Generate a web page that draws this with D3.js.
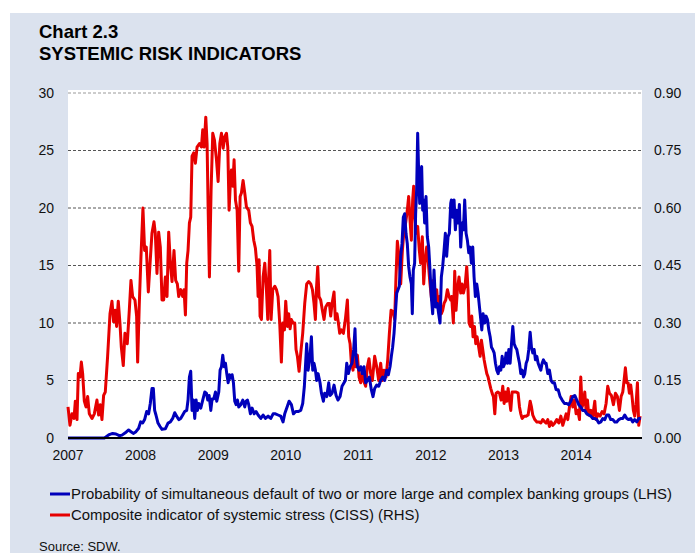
<!DOCTYPE html>
<html>
<head>
<meta charset="utf-8">
<script src="https://cdn.jsdelivr.net/npm/d3@7"></script>
<style>
  body { margin: 0; background: #fff; }
  svg { display: block; font-family: "Liberation Sans", Arial, sans-serif; }
</style>
</head>
<body>
<div id="chart"></div>
<script>
var width = 695,
  height = 553;

// probability of simultaneous default (LHS, %), [decimal year, value]
var pdSeries = [
  [2007.007,0.0],[2007.255,0.0],[2007.508,0.0],[2007.530,0.1],[2007.576,0.3],[2007.622,0.4],[2007.668,0.35],
  [2007.714,0.2],[2007.751,0.25],[2007.797,0.45],[2007.843,0.7],[2007.875,0.55],[2007.907,0.4],[2007.944,0.55],
  [2007.981,0.85],[2008.008,1.4],[2008.036,1.3],[2008.063,1.6],[2008.091,2.3],[2008.118,2.1],[2008.141,3.0],
  [2008.164,4.3],[2008.183,4.3],[2008.201,2.4],[2008.219,2.0],[2008.247,1.3],[2008.275,1.0],[2008.302,0.75],
  [2008.348,0.8],[2008.385,1.3],[2008.417,1.4],[2008.449,1.7],[2008.477,2.2],[2008.504,1.9],[2008.532,1.6],
  [2008.559,1.7],[2008.587,2.0],[2008.614,2.3],[2008.642,2.4],[2008.660,3.3],[2008.679,5.3],[2008.697,5.8],
  [2008.715,2.4],[2008.734,3.3],[2008.752,1.7],[2008.771,3.3],[2008.789,2.4],[2008.807,3.0],[2008.835,2.6],
  [2008.862,3.3],[2008.890,4.0],[2008.913,3.9],[2008.931,3.3],[2008.950,3.7],[2008.973,2.4],[2008.991,3.4],
  [2009.014,3.4],[2009.037,4.0],[2009.055,3.2],[2009.083,4.0],[2009.101,5.9],[2009.120,6.2],[2009.138,7.2],
  [2009.156,6.2],[2009.175,6.5],[2009.193,5.6],[2009.212,4.8],[2009.230,5.5],[2009.248,5.2],[2009.267,5.5],
  [2009.285,4.8],[2009.303,3.2],[2009.322,2.9],[2009.340,3.3],[2009.358,2.7],[2009.386,2.9],[2009.414,3.3],
  [2009.441,2.7],[2009.460,3.2],[2009.478,3.3],[2009.496,2.9],[2009.519,2.1],[2009.542,2.6],[2009.570,2.1],
  [2009.597,2.3],[2009.625,2.0],[2009.662,1.7],[2009.694,2.0],[2009.726,1.7],[2009.763,1.9],[2009.799,1.7],
  [2009.832,2.1],[2009.864,2.1],[2009.900,2.0],[2009.937,1.9],[2009.969,1.4],[2009.992,2.1],[2010.020,2.6],
  [2010.052,3.2],[2010.084,2.9],[2010.112,2.1],[2010.144,2.3],[2010.176,2.3],[2010.213,2.4],[2010.240,3.0],
  [2010.263,4.5],[2010.277,6.1],[2010.295,8.2],[2010.314,5.9],[2010.337,6.8],[2010.360,8.8],[2010.378,5.9],
  [2010.396,6.5],[2010.415,5.9],[2010.433,5.0],[2010.452,5.6],[2010.479,4.8],[2010.498,3.9],[2010.525,3.2],
  [2010.543,3.9],[2010.571,3.6],[2010.599,4.8],[2010.617,3.7],[2010.645,3.9],[2010.672,4.6],[2010.700,3.7],
  [2010.727,3.3],[2010.755,3.6],[2010.782,4.5],[2010.810,4.8],[2010.828,5.0],[2010.847,6.5],[2010.870,5.6],
  [2010.893,6.2],[2010.920,6.5],[2010.943,7.7],[2010.961,9.5],[2010.971,7.4],[2010.994,6.2],[2011.017,5.9],
  [2011.040,6.2],[2011.062,5.6],[2011.085,6.2],[2011.108,4.8],[2011.131,5.0],[2011.159,5.3],[2011.186,4.2],
  [2011.209,3.6],[2011.232,4.3],[2011.260,4.6],[2011.288,4.5],[2011.315,5.0],[2011.343,5.3],[2011.370,5.0],
  [2011.398,5.9],[2011.421,5.5],[2011.444,6.2],[2011.462,7.1],[2011.480,7.9],[2011.499,9.1],[2011.517,10.8],
  [2011.536,12.6],[2011.554,12.9],[2011.572,13.2],[2011.591,15.8],[2011.609,16.9],[2011.627,19.2],[2011.646,19.5],
  [2011.664,17.8],[2011.682,16.9],[2011.701,14.9],[2011.719,14.0],[2011.738,13.4],[2011.751,10.8],[2011.765,14.6],
  [2011.783,15.2],[2011.797,19.5],[2011.811,21.6],[2011.825,26.5],[2011.839,23.0],[2011.853,20.4],[2011.866,23.3],
  [2011.880,23.6],[2011.894,19.8],[2011.908,20.7],[2011.921,18.7],[2011.940,21.0],[2011.958,17.5],[2011.977,16.6],
  [2011.995,14.6],[2012.013,12.3],[2012.032,10.8],[2012.050,14.6],[2012.073,11.4],[2012.096,11.7],[2012.114,10.8],
  [2012.133,10.0],[2012.151,14.0],[2012.169,14.9],[2012.188,16.3],[2012.206,17.8],[2012.224,15.8],[2012.243,17.5],
  [2012.261,17.8],[2012.280,20.4],[2012.289,20.7],[2012.307,19.2],[2012.326,20.7],[2012.344,18.1],[2012.362,19.8],
  [2012.381,18.7],[2012.399,20.3],[2012.417,16.6],[2012.436,18.7],[2012.454,18.1],[2012.472,20.7],[2012.491,17.8],
  [2012.509,17.2],[2012.528,16.1],[2012.546,16.6],[2012.564,15.2],[2012.583,16.6],[2012.601,14.0],[2012.619,12.3],
  [2012.638,13.4],[2012.656,12.6],[2012.675,11.4],[2012.693,10.3],[2012.707,9.4],[2012.725,10.8],[2012.748,10.0],
  [2012.766,10.6],[2012.785,10.3],[2012.803,9.4],[2012.822,8.8],[2012.840,7.9],[2012.858,7.7],[2012.877,7.4],
  [2012.895,6.5],[2012.913,5.9],[2012.932,5.6],[2012.950,6.2],[2012.969,5.9],[2012.987,7.1],[2013.005,6.2],
  [2013.024,6.5],[2013.042,7.4],[2013.060,6.5],[2013.079,7.7],[2013.097,6.5],[2013.116,8.2],[2013.134,9.7],
  [2013.152,8.2],[2013.171,7.9],[2013.189,7.7],[2013.207,7.1],[2013.226,6.5],[2013.244,5.6],[2013.262,5.9],
  [2013.281,5.3],[2013.299,5.6],[2013.318,6.5],[2013.336,6.8],[2013.354,7.7],[2013.373,9.2],[2013.391,7.9],
  [2013.409,7.4],[2013.428,7.7],[2013.446,6.8],[2013.465,7.1],[2013.483,6.5],[2013.501,6.2],[2013.520,5.9],
  [2013.538,6.5],[2013.556,6.8],[2013.579,6.5],[2013.593,6.5],[2013.616,5.6],[2013.639,5.9],[2013.662,5.0],
  [2013.685,4.8],[2013.708,4.8],[2013.731,4.2],[2013.759,4.2],[2013.786,3.6],[2013.814,3.3],[2013.846,3.0],
  [2013.878,3.0],[2013.905,2.9],[2013.933,3.2],[2013.961,3.6],[2013.988,3.7],[2014.016,3.3],[2014.043,2.9],
  [2014.071,2.7],[2014.098,2.4],[2014.126,2.4],[2014.153,2.1],[2014.181,2.0],[2014.209,1.9],[2014.236,1.7],
  [2014.264,1.7],[2014.291,1.6],[2014.319,1.3],[2014.347,1.4],[2014.374,1.7],[2014.402,1.6],[2014.429,2.0],
  [2014.457,2.0],[2014.484,1.6],[2014.512,1.6],[2014.540,1.4],[2014.567,1.4],[2014.595,1.6],[2014.622,1.7],
  [2014.650,1.7],[2014.677,2.0],[2014.705,1.7],[2014.732,1.6],[2014.760,1.7],[2014.787,1.4],[2014.815,1.6],
  [2014.842,1.4],[2014.870,1.7],[2014.898,1.7]
];

// CISS (RHS), [decimal year, value]
var cissSeries = [
  [2007.007,0.081],[2007.034,0.033],[2007.062,0.063],[2007.090,0.051],[2007.108,0.096],[2007.131,0.048],
  [2007.149,0.168],[2007.172,0.159],[2007.191,0.198],[2007.209,0.168],[2007.232,0.096],[2007.255,0.081],
  [2007.278,0.108],[2007.301,0.063],[2007.338,0.051],[2007.370,0.063],[2007.406,0.099],[2007.429,0.060],
  [2007.452,0.087],[2007.475,0.048],[2007.498,0.111],[2007.521,0.120],[2007.553,0.213],[2007.586,0.324],
  [2007.613,0.357],[2007.636,0.303],[2007.659,0.333],[2007.677,0.291],[2007.700,0.357],[2007.723,0.300],
  [2007.742,0.237],[2007.769,0.189],[2007.792,0.273],[2007.824,0.246],[2007.852,0.333],[2007.875,0.411],
  [2007.898,0.369],[2007.930,0.360],[2007.953,0.318],[2007.967,0.198],[2007.990,0.351],[2008.013,0.474],
  [2008.040,0.600],[2008.063,0.489],[2008.086,0.498],[2008.114,0.381],[2008.141,0.465],[2008.164,0.534],
  [2008.192,0.564],[2008.210,0.534],[2008.233,0.429],[2008.256,0.537],[2008.279,0.498],[2008.302,0.360],
  [2008.325,0.360],[2008.348,0.420],[2008.371,0.369],[2008.394,0.537],[2008.417,0.456],[2008.440,0.408],
  [2008.467,0.489],[2008.490,0.411],[2008.513,0.402],[2008.532,0.369],[2008.559,0.387],[2008.587,0.369],
  [2008.605,0.387],[2008.624,0.321],[2008.642,0.456],[2008.660,0.489],[2008.679,0.561],[2008.697,0.576],
  [2008.715,0.735],[2008.738,0.744],[2008.761,0.717],[2008.784,0.759],[2008.817,0.768],[2008.844,0.759],
  [2008.862,0.804],[2008.881,0.759],[2008.904,0.837],[2008.922,0.768],[2008.936,0.603],[2008.954,0.420],
  [2008.977,0.648],[2009.000,0.795],[2009.023,0.777],[2009.051,0.726],[2009.074,0.669],[2009.097,0.768],
  [2009.120,0.795],[2009.143,0.756],[2009.166,0.786],[2009.189,0.795],[2009.207,0.759],[2009.225,0.594],
  [2009.244,0.672],[2009.257,0.699],[2009.276,0.657],[2009.294,0.726],[2009.313,0.621],[2009.336,0.594],
  [2009.358,0.435],[2009.377,0.630],[2009.395,0.639],[2009.418,0.672],[2009.441,0.639],[2009.464,0.603],
  [2009.496,0.594],[2009.519,0.561],[2009.542,0.552],[2009.565,0.516],[2009.588,0.495],[2009.611,0.447],
  [2009.625,0.369],[2009.639,0.465],[2009.652,0.318],[2009.671,0.309],[2009.694,0.420],[2009.717,0.456],
  [2009.740,0.387],[2009.758,0.309],[2009.772,0.420],[2009.786,0.489],[2009.804,0.309],[2009.827,0.387],
  [2009.855,0.396],[2009.878,0.387],[2009.900,0.369],[2009.923,0.300],[2009.946,0.198],[2009.965,0.300],
  [2009.988,0.282],[2010.006,0.357],[2010.029,0.291],[2010.047,0.324],[2010.066,0.285],[2010.084,0.309],
  [2010.107,0.300],[2010.130,0.300],[2010.148,0.231],[2010.167,0.213],[2010.190,0.174],[2010.213,0.222],
  [2010.240,0.273],[2010.268,0.351],[2010.295,0.402],[2010.323,0.408],[2010.351,0.402],[2010.374,0.387],
  [2010.396,0.351],[2010.415,0.309],[2010.429,0.387],[2010.447,0.447],[2010.465,0.369],[2010.488,0.360],
  [2010.511,0.333],[2010.534,0.309],[2010.557,0.342],[2010.585,0.351],[2010.608,0.351],[2010.626,0.318],
  [2010.645,0.351],[2010.672,0.381],[2010.690,0.309],[2010.713,0.324],[2010.732,0.300],[2010.750,0.273],
  [2010.773,0.282],[2010.801,0.273],[2010.828,0.309],[2010.856,0.360],[2010.874,0.264],[2010.893,0.246],
  [2010.911,0.195],[2010.934,0.177],[2010.957,0.246],[2010.971,0.186],[2010.994,0.216],[2011.017,0.159],
  [2011.040,0.144],[2011.062,0.177],[2011.085,0.147],[2011.108,0.135],[2011.131,0.186],[2011.154,0.207],
  [2011.177,0.168],[2011.200,0.150],[2011.232,0.213],[2011.260,0.186],[2011.288,0.150],[2011.315,0.195],
  [2011.338,0.150],[2011.361,0.177],[2011.389,0.159],[2011.412,0.204],[2011.435,0.273],[2011.458,0.333],
  [2011.485,0.330],[2011.508,0.309],[2011.526,0.420],[2011.545,0.513],[2011.568,0.474],[2011.591,0.402],
  [2011.614,0.489],[2011.637,0.543],[2011.659,0.561],[2011.682,0.594],[2011.701,0.630],[2011.719,0.570],
  [2011.738,0.516],[2011.756,0.621],[2011.770,0.657],[2011.788,0.576],[2011.806,0.534],[2011.825,0.552],
  [2011.848,0.489],[2011.866,0.456],[2011.889,0.525],[2011.908,0.402],[2011.926,0.456],[2011.949,0.498],
  [2011.972,0.456],[2011.995,0.402],[2012.018,0.360],[2012.041,0.411],[2012.064,0.351],[2012.087,0.387],
  [2012.105,0.342],[2012.128,0.369],[2012.151,0.324],[2012.169,0.333],[2012.188,0.351],[2012.211,0.360],
  [2012.234,0.387],[2012.257,0.369],[2012.280,0.360],[2012.293,0.369],[2012.316,0.300],[2012.335,0.435],
  [2012.353,0.333],[2012.372,0.387],[2012.394,0.420],[2012.417,0.378],[2012.436,0.402],[2012.454,0.378],
  [2012.477,0.396],[2012.500,0.447],[2012.518,0.387],[2012.532,0.300],[2012.551,0.291],[2012.569,0.318],
  [2012.587,0.264],[2012.606,0.291],[2012.624,0.246],[2012.642,0.264],[2012.665,0.237],[2012.684,0.213],
  [2012.702,0.255],[2012.720,0.231],[2012.739,0.204],[2012.757,0.186],[2012.776,0.168],[2012.794,0.159],
  [2012.812,0.144],[2012.831,0.129],[2012.849,0.117],[2012.867,0.108],[2012.886,0.063],[2012.904,0.117],
  [2012.927,0.120],[2012.950,0.117],[2012.973,0.099],[2012.996,0.135],[2013.014,0.090],[2013.033,0.120],
  [2013.051,0.096],[2013.069,0.129],[2013.088,0.099],[2013.106,0.072],[2013.125,0.120],[2013.152,0.120],
  [2013.180,0.120],[2013.207,0.117],[2013.226,0.081],[2013.244,0.063],[2013.262,0.051],[2013.290,0.057],
  [2013.318,0.057],[2013.345,0.060],[2013.373,0.096],[2013.391,0.081],[2013.409,0.060],[2013.437,0.048],
  [2013.465,0.042],[2013.492,0.042],[2013.520,0.039],[2013.547,0.048],[2013.575,0.042],[2013.593,0.039],
  [2013.616,0.048],[2013.639,0.030],[2013.662,0.042],[2013.685,0.033],[2013.713,0.039],[2013.740,0.048],
  [2013.768,0.039],[2013.796,0.057],[2013.823,0.033],[2013.846,0.048],[2013.869,0.063],[2013.892,0.048],
  [2013.915,0.081],[2013.938,0.108],[2013.961,0.081],[2013.984,0.099],[2014.007,0.063],[2014.030,0.072],
  [2014.053,0.048],[2014.071,0.159],[2014.089,0.081],[2014.108,0.090],[2014.126,0.120],[2014.144,0.072],
  [2014.163,0.099],[2014.181,0.060],[2014.209,0.072],[2014.236,0.057],[2014.264,0.096],[2014.282,0.048],
  [2014.310,0.063],[2014.337,0.057],[2014.365,0.069],[2014.392,0.063],[2014.420,0.090],[2014.443,0.135],
  [2014.466,0.117],[2014.493,0.111],[2014.521,0.087],[2014.549,0.117],[2014.576,0.108],[2014.604,0.072],
  [2014.627,0.108],[2014.650,0.120],[2014.668,0.150],[2014.686,0.183],[2014.705,0.144],[2014.723,0.144],
  [2014.741,0.117],[2014.760,0.138],[2014.778,0.108],[2014.796,0.072],[2014.815,0.057],[2014.833,0.087],
  [2014.852,0.144],[2014.870,0.033],[2014.889,0.057]
];

var years = [2007, 2008, 2009, 2010, 2011, 2012, 2013, 2014];
var leftTicks = [0, 5, 10, 15, 20, 25, 30];
var rightTicks = [0, 0.15, 0.30, 0.45, 0.60, 0.75, 0.90];
var legendLabels = [
  "Probability of simultaneous default of two or more large and complex banking groups (LHS)",
  "Composite indicator of systemic stress (CISS) (RHS)"
];
var colors = ["#0000bb", "#e60000"];

// decimal year -> Date
function toDate(t) {
  var y = Math.floor(t);
  var start = new Date(y, 0, 1), end = new Date(y + 1, 0, 1);
  return new Date(start.getTime() + (t - y) * (end - start));
}

var plot = { left: 68, right: 642, top: 93, bottom: 438 };

var svg = d3.select("#chart").append("svg")
  .attr("width", width)
  .attr("height", height);

svg.append("rect")
  .attr("x", 10).attr("y", 13)
  .attr("width", width - 10).attr("height", height - 13)
  .attr("fill", "#dbe2ee");

svg.append("rect")
  .attr("x", plot.left).attr("y", plot.top - 3)
  .attr("width", plot.right - plot.left).attr("height", plot.bottom - plot.top + 3)
  .attr("fill", "#fff");

svg.append("text").attr("x", 39).attr("y", 38)
  .style("font-size", "18.5px").style("font-weight", "bold")
  .text("Chart 2.3");
svg.append("text").attr("x", 39).attr("y", 60)
  .style("font-size", "18.5px").style("font-weight", "bold")
  .text("SYSTEMIC RISK INDICATORS");

var x = d3.scaleTime()
  .domain([new Date(2007, 0, 1), new Date(2014, 11, 1)])
  .range([67.5, plot.right]);

var yL = d3.scaleLinear().domain([0, 30]).range([plot.bottom, plot.top]);
var yR = d3.scaleLinear().domain([0, 0.9]).range([plot.bottom, plot.top]);

// gridlines
svg.append("g").selectAll("line")
  .data(leftTicks.slice(1))
  .enter().append("line")
  .attr("x1", plot.left).attr("x2", plot.right)
  .attr("y1", function (d) { return yL(d); })
  .attr("y2", function (d) { return yL(d); })
  .attr("stroke", function (d) { return d == 30 ? "#999" : "#555"; })
  .attr("stroke-width", 1)
  .attr("stroke-dasharray", "3,2");

var axisL = svg.append("g")
  .attr("transform", "translate(" + (plot.left - 14) + ",0)")
  .call(d3.axisLeft(yL).tickValues(leftTicks).tickSize(0).tickPadding(0));
var axisR = svg.append("g")
  .attr("transform", "translate(" + (plot.right + 12) + ",0)")
  .call(d3.axisRight(yR).tickValues(rightTicks).tickSize(0).tickPadding(0).tickFormat(d3.format(".2f")));
var axisB = svg.append("g")
  .attr("transform", "translate(0," + (plot.bottom + 9) + ")")
  .call(d3.axisBottom(x).tickValues(years.map(function (d) { return new Date(d, 0, 1); }))
    .tickSize(0).tickPadding(0).tickFormat(d3.timeFormat("%Y")));

[axisL, axisR, axisB].forEach(function (a) {
  a.select(".domain").remove();
  a.selectAll("text")
    .style("font-family", "\"Liberation Sans\", Arial, sans-serif")
    .style("font-size", "14px")
    .attr("fill", "#111");
});
axisB.selectAll("text").attr("dy", "0.9em");

var lineL = d3.line()
  .x(function (d) { return x(toDate(d[0])); })
  .y(function (d) { return yL(d[1]); });
var lineR = d3.line()
  .x(function (d) { return x(toDate(d[0])); })
  .y(function (d) { return yR(d[1]); });

svg.append("path").datum(cissSeries)
  .attr("d", lineR)
  .attr("fill", "none")
  .attr("stroke", colors[1])
  .attr("stroke-width", 3)
  .attr("stroke-linejoin", "round");

svg.append("path").datum(pdSeries)
  .attr("d", lineL)
  .attr("fill", "none")
  .attr("stroke", colors[0])
  .attr("stroke-width", 3)
  .attr("stroke-linejoin", "round");

svg.append("line")
  .attr("x1", plot.left).attr("x2", plot.right)
  .attr("y1", plot.bottom).attr("y2", plot.bottom)
  .attr("stroke", "#000").attr("stroke-width", 2);

// legend
var legend = svg.append("g").selectAll("g")
  .data(legendLabels)
  .enter().append("g")
  .attr("transform", function (d, i) { return "translate(50," + (494 + i * 21) + ")"; });

legend.append("line")
  .attr("x1", 0).attr("x2", 20)
  .attr("stroke", function (d, i) { return colors[i]; })
  .attr("stroke-width", 3);

legend.append("text")
  .attr("x", 21).attr("y", 5)
  .style("font-size", "14.9px")
  .attr("fill", "#111")
  .text(function (d) { return d; });

svg.append("text").attr("x", 39).attr("y", 551)
  .style("font-size", "13px")
  .attr("fill", "#111")
  .text("Source: SDW.");
</script>
</body>
</html>
